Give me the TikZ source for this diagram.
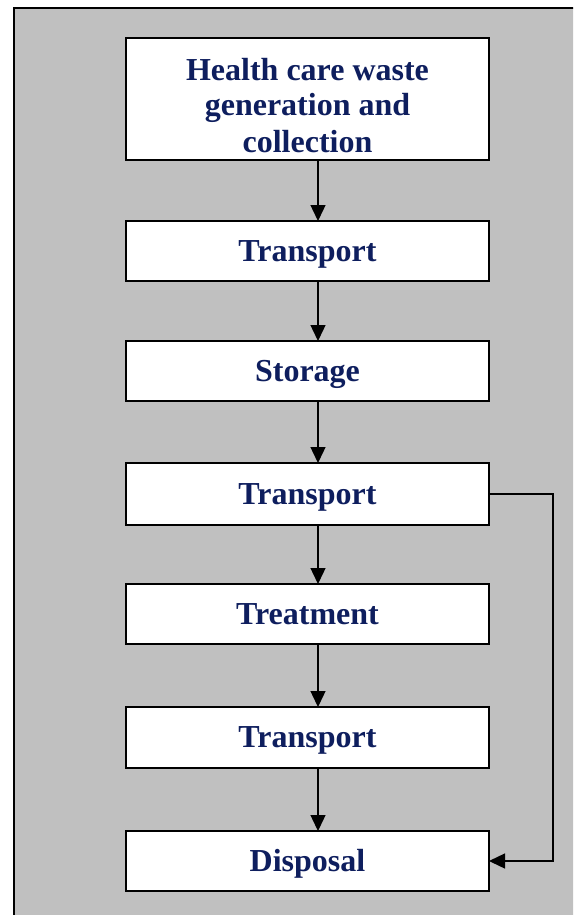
\documentclass[tikz,border=0pt]{standalone}
\usepackage{fontspec}
\setmainfont{Liberation Serif}
\usetikzlibrary{arrows.meta}
\definecolor{navytext}{RGB}{14,30,94}
\definecolor{panelgray}{RGB}{192,192,192}
\tikzset{
  stepbox/.style={draw=black, line width=2pt, fill=white, minimum width=363pt, inner sep=0pt, outer sep=0pt},
  steplabel/.style={text=navytext, font=\fontsize{32}{36}\selectfont\bfseries, align=center, inner sep=0pt, anchor=base},
  flow/.style={line width=1.4pt, -{Triangle[length=16pt,width=15pt]}},
}
\begin{document}
\begin{tikzpicture}[x=1pt,y=-1pt]
\useasboundingbox (0,0) rectangle (573,915);
\clip (0,0) rectangle (573,915);
\draw[fill=panelgray, line width=2.5pt] (14,8) rectangle (700,1000);
% boxes
\node[stepbox, minimum height=122pt] (b1) at (307.5,99) {};
\node[steplabel] (t1) at (307.5,152) {Health care waste\\generation and\\collection};
\node[stepbox, minimum height=60pt] (b2) at (307.5,251) {};
\node[steplabel] (t2) at (307.5,261) {Transport};
\node[stepbox, minimum height=60pt] (b3) at (307.5,371) {};
\node[steplabel] (t3) at (307.5,381) {Storage};
\node[stepbox, minimum height=62pt] (b4) at (307.5,494) {};
\node[steplabel] (t4) at (307.5,504) {Transport};
\node[stepbox, minimum height=60pt] (b5) at (307.5,614) {};
\node[steplabel] (t5) at (307.5,624) {Treatment};
\node[stepbox, minimum height=61pt] (b6) at (307.5,737.5) {};
\node[steplabel] (t6) at (307.5,747.5) {Transport};
\node[stepbox, minimum height=60pt] (b7) at (307.5,861) {};
\node[steplabel] (t7) at (307.5,871) {Disposal};
% connectors
\coordinate (ax) at (318,0);
\coordinate (rx) at (553,0);
\draw[flow] (b1.south -| ax) -- (b2.north -| ax);
\draw[flow] (b2.south -| ax) -- (b3.north -| ax);
\draw[flow] (b3.south -| ax) -- (b4.north -| ax);
\draw[flow] (b4.south -| ax) -- (b5.north -| ax);
\draw[flow] (b5.south -| ax) -- (b6.north -| ax);
\draw[flow] (b6.south -| ax) -- (b7.north -| ax);
\draw[flow] (b4.east) -- (b4.east -| rx) |- (b7.east);
\end{tikzpicture}
\end{document}
